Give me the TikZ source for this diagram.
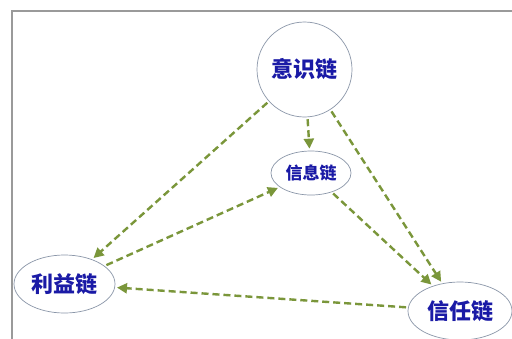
\documentclass[tikz,border=0pt]{standalone}
\usepackage{fontspec}
\newfontfamily\cjk{Noto Sans CJK SC}
\usetikzlibrary{shapes.geometric,arrows.meta}
\definecolor{txtblue}{HTML}{1A1AA6}
\definecolor{edgegray}{HTML}{8A96A8}
\definecolor{olive}{HTML}{7A963A}
\definecolor{framegray}{HTML}{9A9A9A}
\tikzset{
  chainnode/.style={draw=edgegray,line width=0.7pt,fill=white,inner sep=0pt,
    text=txtblue,font=\cjk\bfseries\fontsize{22}{24}\selectfont},
  bigcirc/.style={chainnode,circle,minimum size=95pt},
  bigell/.style={chainnode,ellipse,minimum width=101pt,minimum height=58pt},
  smallell/.style={chainnode,ellipse,minimum width=80pt,minimum height=44pt,
    font=\cjk\bfseries\fontsize{17}{19}\selectfont},
  flow/.style={draw=olive,line width=2.4pt,dash pattern=on 7pt off 4pt,
    -{Triangle[length=10pt,width=10pt]},shorten >=2pt,shorten <=2pt}
}
\begin{document}
\begin{tikzpicture}[x=1pt,y=-1pt]
\useasboundingbox (0,0) rectangle (512,338);
\fill[white] (0,0) rectangle (512,338);
\draw[framegray,line width=2pt] (12,11) rectangle (540,370);
\node[bigcirc] (ys) at (304.5,69.5) {意识链};
\node[smallell] (xx) at (311,173) {信息链};
\node[bigell] (ly) at (64.5,284) {利益链};
\node[bigell,minimum width=104pt] (xr) at (460,311) {信任链};
\draw[flow] (ys) -- (ly);
\draw[flow] (ys) -- (xx);
\draw[flow] (ys) -- (xr);
\draw[flow] (ly) -- (xx);
\draw[flow] (xx) -- (xr);
\draw[flow] (xr) -- (ly);
\end{tikzpicture}
\end{document}
